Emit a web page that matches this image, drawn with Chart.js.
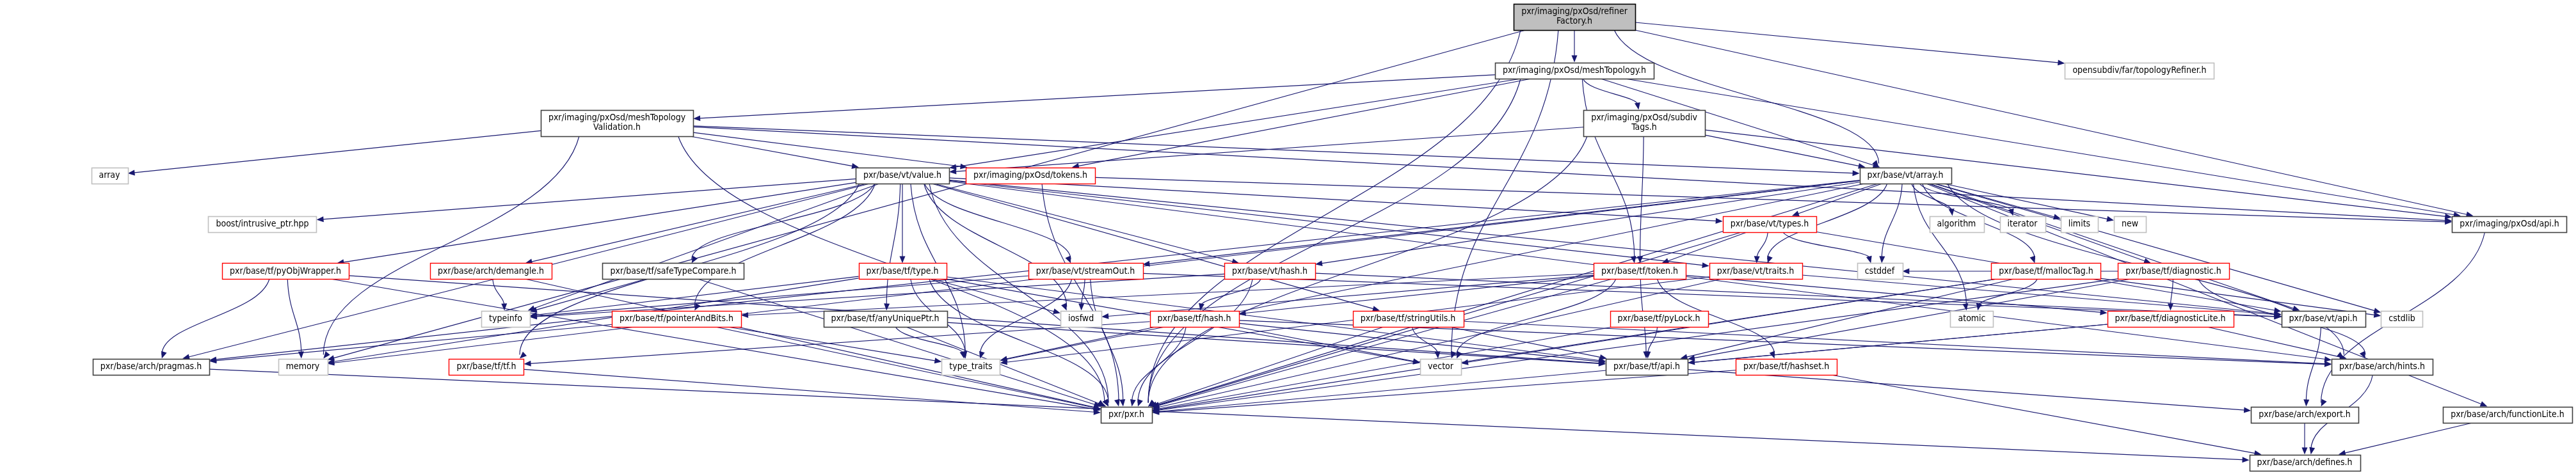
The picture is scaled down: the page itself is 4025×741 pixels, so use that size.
<!DOCTYPE html>
<html>
<head>
<meta charset="utf-8">
<title>refinerFactory.h include graph</title>
<script src="https://cdn.jsdelivr.net/npm/chart.js@4.4.1/dist/chart.umd.min.js"></script>
<style>
  html, body { margin: 0; padding: 0; background: #fff; }
  #wrap { width: 4025px; height: 741px; position: relative; }
</style>
</head>
<body>
<div id="wrap"><canvas id="graph"></canvas></div>
<script>
// Include dependency graph of pxr/imaging/pxOsd/refinerFactory.h
// nodes: id, label, layout position (graph units), kind
const nodeIds = [
  'rf', 'mt', 'topo', 'mtv', 'st',
  'arr', 'val', 'tok', 'va',
  'bip', 'vty', 'alg', 'itr', 'lim', 'new', 'oapi',
  'pyo', 'dem', 'stc', 'tty', 'so', 'vh', 'ttk', 'vtr', 'csd', 'mal', 'dia',
  'ti', 'pab', 'aup', 'iof', 'th', 'su', 'pl', 'atm', 'dl', 'vapi', 'csl',
  'prg', 'mem', 'tf', 'tt', 'vec', 'tapi', 'hs', 'hint',
  'pxr', 'exp', 'fl',
  'def'
];
const nodeLabels = [
  'pxr/imaging/pxOsd/refiner\nFactory.h', 'pxr/imaging/pxOsd/meshTopology.h', 'opensubdiv/far/topologyRefiner.h',
  'pxr/imaging/pxOsd/meshTopology\nValidation.h', 'pxr/imaging/pxOsd/subdiv\nTags.h',
  'array', 'pxr/base/vt/value.h', 'pxr/imaging/pxOsd/tokens.h', 'pxr/base/vt/array.h',
  'boost/intrusive_ptr.hpp', 'pxr/base/vt/types.h', 'algorithm', 'iterator', 'limits', 'new', 'pxr/imaging/pxOsd/api.h',
  'pxr/base/tf/pyObjWrapper.h', 'pxr/base/arch/demangle.h', 'pxr/base/tf/safeTypeCompare.h', 'pxr/base/tf/type.h',
  'pxr/base/vt/streamOut.h', 'pxr/base/vt/hash.h', 'pxr/base/tf/token.h', 'pxr/base/vt/traits.h', 'cstddef',
  'pxr/base/tf/mallocTag.h', 'pxr/base/tf/diagnostic.h',
  'typeinfo', 'pxr/base/tf/pointerAndBits.h', 'pxr/base/tf/anyUniquePtr.h', 'iosfwd', 'pxr/base/tf/hash.h',
  'pxr/base/tf/stringUtils.h', 'pxr/base/tf/pyLock.h', 'atomic', 'pxr/base/tf/diagnosticLite.h', 'pxr/base/vt/api.h', 'cstdlib',
  'pxr/base/arch/pragmas.h', 'memory', 'pxr/base/tf/tf.h', 'type_traits', 'vector', 'pxr/base/tf/api.h',
  'pxr/base/tf/hashset.h', 'pxr/base/arch/hints.h',
  'pxr/pxr.h', 'pxr/base/arch/export.h', 'pxr/base/arch/functionLite.h',
  'pxr/base/arch/defines.h'
];
const nodeX = [
  2460, 2460, 3343, 964, 2569,
  171, 1410, 1610, 2977,
  410, 2765, 3057, 3160, 3249, 3328, 3921,
  446, 767, 1052, 1410, 1696, 1984, 2562, 2743, 2937, 3197, 3396,
  790, 1057, 1383, 1689, 1866, 2200, 2592, 3081, 3391, 3630, 3753,
  236, 473, 760, 1517, 2251, 2573, 2791, 3722,
  1760, 3601, 3918,
  3601
];
const nodeY = [
  26, 110, 110, 192, 192,
  274, 274, 274, 274,
  350, 350, 350, 350, 350, 350, 350,
  424, 424, 424, 424, 424, 424, 424, 424, 424, 424, 424,
  498, 498, 498, 498, 498, 498, 498, 498, 498, 498, 498,
  573, 573, 573, 573, 573, 573, 573, 573,
  648, 648, 648,
  723
];
// root = file itself, doc = documented, trunc = graph truncated, sys = external header
const nodeKind = [
  'root', 'doc', 'sys', 'doc', 'doc',
  'sys', 'doc', 'trunc', 'doc',
  'sys', 'trunc', 'sys', 'sys', 'sys', 'sys', 'doc',
  'trunc', 'trunc', 'doc', 'trunc', 'trunc', 'trunc', 'trunc', 'trunc', 'sys', 'trunc', 'trunc',
  'sys', 'trunc', 'doc', 'sys', 'trunc', 'trunc', 'trunc', 'sys', 'trunc', 'doc', 'sys',
  'doc', 'sys', 'trunc', 'sys', 'sys', 'doc', 'trunc', 'doc',
  'doc', 'doc', 'doc',
  'doc'
];

// includes: [from, to]
const edges = [
  ['rf', 'mt'], ['rf', 'topo'], ['rf', 'va'], ['rf', 'oapi'], ['rf', 'vec'], ['rf', 'pxr'], ['rf', 'mem'],
  ['mt', 'mtv'], ['mt', 'st'], ['mt', 'tok'], ['mt', 'va'], ['mt', 'val'], ['mt', 'ttk'], ['mt', 'oapi'], ['mt', 'pxr'],
  ['mtv', 'val'], ['mtv', 'tok'], ['mtv', 'arr'], ['mtv', 'mem'], ['mtv', 'pxr'], ['mtv', 'oapi'], ['mtv', 'va'],
  ['st', 'va'], ['st', 'val'], ['st', 'ttk'], ['st', 'oapi'], ['st', 'pxr'],
  ['tok', 'oapi'], ['tok', 'pxr'],
  ['val', 'bip'], ['val', 'pyo'], ['val', 'dem'], ['val', 'stc'], ['val', 'tty'], ['val', 'so'], ['val', 'vh'],
  ['val', 'vty'], ['val', 'vtr'], ['val', 'ti'], ['val', 'pab'], ['val', 'aup'], ['val', 'iof'], ['val', 'su'],
  ['val', 'tf'], ['val', 'tt'], ['val', 'prg'], ['val', 'vapi'], ['val', 'hint'], ['val', 'pxr'],
  ['va', 'alg'], ['va', 'itr'], ['va', 'lim'], ['va', 'new'], ['va', 'vty'], ['va', 'vtr'], ['va', 'vh'], ['va', 'so'],
  ['va', 'dia'], ['va', 'mal'], ['va', 'vapi'], ['va', 'atm'], ['va', 'csd'], ['va', 'csl'], ['va', 'mem'],
  ['va', 'tt'], ['va', 'fl'], ['va', 'hint'], ['va', 'pxr'], ['va', 'prg'],
  ['vty', 'ttk'], ['vty', 'vtr'], ['vty', 'csd'], ['vty', 'vapi'], ['vty', 'pxr'],
  ['pyo', 'mem'], ['pyo', 'prg'], ['pyo', 'tapi'], ['pyo', 'pxr'],
  ['dem', 'ti'], ['dem', 'pxr'],
  ['stc', 'ti'], ['stc', 'pxr'],
  ['tty', 'ti'], ['tty', 'iof'], ['tty', 'tt'], ['tty', 'mem'], ['tty', 'vec'], ['tty', 'tapi'], ['tty', 'pxr'],
  ['so', 'iof'], ['so', 'ti'], ['so', 'tt'], ['so', 'vapi'], ['so', 'pxr'],
  ['vh', 'th'], ['vh', 'ti'], ['vh', 'vapi'], ['vh', 'pxr'],
  ['ttk', 'tapi'], ['ttk', 'dl'], ['ttk', 'th'], ['ttk', 'hs'], ['ttk', 'pab'], ['ttk', 'iof'], ['ttk', 'vec'], ['ttk', 'pxr'],
  ['vtr', 'tt'], ['vtr', 'vapi'], ['vtr', 'pxr'],
  ['mal', 'atm'], ['mal', 'csl'], ['mal', 'tapi'], ['mal', 'vec'], ['mal', 'pxr'],
  ['dia', 'dl'], ['dia', 'tapi'], ['dia', 'hint'], ['dia', 'csd'], ['dia', 'pxr'],
  ['pab', 'prg'], ['pab', 'tt'], ['pab', 'pxr'],
  ['aup', 'tt'], ['aup', 'tapi'], ['aup', 'pxr'],
  ['th', 'tf'], ['th', 'hint'], ['th', 'tt'], ['th', 'vec'], ['th', 'tapi'], ['th', 'pxr'],
  ['su', 'vec'], ['su', 'tapi'], ['su', 'hint'], ['su', 'pxr'],
  ['pl', 'tapi'], ['pl', 'pxr'],
  ['dl', 'tapi'], ['dl', 'hint'], ['dl', 'pxr'],
  ['hs', 'def'], ['hs', 'pxr'],
  ['tf', 'pxr'],
  ['prg', 'def'],
  ['tapi', 'exp'], ['vapi', 'exp'], ['oapi', 'exp'],
  ['hint', 'def'], ['exp', 'def'], ['fl', 'def']
];

const EDGE = '#191970';
const BORDER = { root: '#000000', doc: '#404040', trunc: '#ff0000', sys: '#bfbfbf' };

function pickFont() {
  const c = document.createElement('canvas').getContext('2d');
  c.font = '40px monospace';
  const ref = c.measureText('pxr/imaging/pxOsd').width;
  c.font = '40px "DejaVu Sans Condensed", monospace';
  const cond = c.measureText('pxr/imaging/pxOsd').width;
  return Math.abs(cond - ref) > 1 ? { family: '"DejaVu Sans Condensed"', squeeze: 1 } : { family: '"DejaVu Sans"', squeeze: 0.9 };
}
const face = pickFont();

function nodeBox(chart, i) {
  const ctx = chart.ctx;
  const lines = nodeLabels[i].split('\n');
  ctx.font = '14px ' + face.family;
  const tw = Math.max(...lines.map(l => ctx.measureText(l).width)) * face.squeeze;
  const w = tw + 24;
  const h = lines.length === 1 ? 25 : 41;
  const cx = chart.scales.x.getPixelForValue(nodeX[i]);
  const cy = chart.scales.y.getPixelForValue(nodeY[i]);
  return { cx, cy, w, h, lines };
}

function clip(b, dx, dy) {
  const tx = dx === 0 ? Infinity : (b.w / 2) / Math.abs(dx);
  const ty = dy === 0 ? Infinity : (b.h / 2) / Math.abs(dy);
  const t = Math.min(tx, ty);
  return { x: b.cx + dx * t, y: b.cy + dy * t };
}

function clamp(v, lo, hi) { return Math.max(lo, Math.min(hi, v)); }

function arrow(ctx, tip, fromX, fromY) {
  const ang = Math.atan2(tip.y - fromY, tip.x - fromX);
  const len = 11, half = 4.5;
  ctx.beginPath();
  ctx.moveTo(tip.x, tip.y);
  ctx.lineTo(tip.x - len * Math.cos(ang) + half * Math.sin(ang), tip.y - len * Math.sin(ang) - half * Math.cos(ang));
  ctx.lineTo(tip.x - len * Math.cos(ang) - half * Math.sin(ang), tip.y - len * Math.sin(ang) + half * Math.cos(ang));
  ctx.closePath();
  ctx.fill();
}

const graphPlugin = {
  id: 'includeGraph',
  afterDatasetsDraw(chart) {
    const ctx = chart.ctx;
    const boxes = nodeIds.map((_, i) => nodeBox(chart, i));
    const idx = id => nodeIds.indexOf(id);

    ctx.save();
    ctx.strokeStyle = EDGE;
    ctx.fillStyle = EDGE;
    ctx.lineWidth = 1.15;
    edges.forEach(([f, t]) => {
      const a = boxes[idx(f)], b = boxes[idx(t)];
      const dx = b.cx - a.cx, dy = b.cy - a.cy;
      ctx.beginPath();
      if (Math.abs(dx) < 2.5 * Math.abs(dy)) {
        // steep edge: leave the bottom side, enter the top side, spread by direction
        const sa = a.w / 2 - 6, sb = b.w / 2 - 6;
        const p0 = { x: a.cx + clamp(dx * 0.12, -sa, sa), y: a.cy + a.h / 2 };
        const p3 = { x: b.cx - clamp(dx * 0.08, -sb, sb), y: b.cy - b.h / 2 };
        const k = 0.45 * (p3.y - p0.y);
        ctx.moveTo(p0.x, p0.y);
        ctx.bezierCurveTo(p0.x + (p3.x - p0.x) * 0.1, p0.y + k, p3.x, p3.y - k, p3.x, p3.y - 6);
        ctx.stroke();
        arrow(ctx, p3, p3.x + (p0.x - p3.x) * 0.02, p3.y - 10);
      } else {
        const p0 = clip(a, dx, dy);
        const p3 = clip(b, -dx, -dy);
        const ang = Math.atan2(p3.y - p0.y, p3.x - p0.x);
        ctx.moveTo(p0.x, p0.y);
        ctx.lineTo(p3.x - 6 * Math.cos(ang), p3.y - 6 * Math.sin(ang));
        ctx.stroke();
        arrow(ctx, p3, p0.x, p0.y);
      }
    });

    boxes.forEach((b, i) => {
      const kind = nodeKind[i];
      const x0 = Math.round(b.cx - b.w / 2) + 0.5, y0 = Math.round(b.cy - b.h / 2) + 0.5;
      const w = Math.round(b.w), h = Math.round(b.h);
      ctx.fillStyle = kind === 'root' ? '#bfbfbf' : '#ffffff';
      ctx.fillRect(x0, y0, w, h);
      ctx.lineWidth = kind === 'trunc' ? 1.4 : 1.6;
      ctx.strokeStyle = BORDER[kind];
      ctx.strokeRect(x0, y0, w, h);
      ctx.fillStyle = '#000000';
      ctx.font = '14px ' + face.family;
      ctx.textAlign = 'center';
      ctx.textBaseline = 'middle';
      const lh = 14.5;
      b.lines.forEach((line, j) => {
        const ly = b.cy + (j - (b.lines.length - 1) / 2) * lh;
        ctx.save();
        ctx.translate(b.cx, ly);
        ctx.scale(face.squeeze, 1);
        ctx.fillText(line, 0, 0);
        ctx.restore();
      });
    });
    ctx.restore();
  }
};

new Chart(document.getElementById('graph'), {
  type: 'scatter',
  data: {
    datasets: [{
      label: 'headers',
      data: nodeIds.map((_, i) => ({ x: nodeX[i], y: nodeY[i] })),
      pointRadius: 0
    }]
  },
  options: {
    responsive: true,
    maintainAspectRatio: false,
    animation: false,
    events: [],
    layout: { padding: 0 },
    plugins: { legend: { display: false }, tooltip: { enabled: false } },
    scales: {
      x: { type: 'linear', min: 0, max: 4025, display: false },
      y: { type: 'linear', min: 0, max: 741, reverse: true, display: false }
    }
  },
  plugins: [graphPlugin]
});
</script>
</body>
</html>
